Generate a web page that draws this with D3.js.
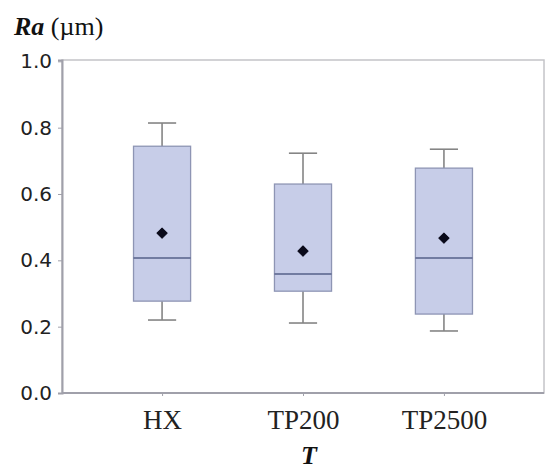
<!DOCTYPE html>
<html>
<head>
<meta charset="utf-8">
<script src="https://cdn.jsdelivr.net/npm/d3@7"></script>
<style>
  html, body { margin: 0; padding: 0; background: #fff; }
  svg { display: block; }
</style>
</head>
<body>
<svg id="chart" width="551" height="472"></svg>
<script>
// Surface roughness Ra by tool type T
const categories = ["HX", "TP200", "TP2500"];
const whiskerLow = [0.22, 0.211, 0.187];
const q1         = [0.277, 0.307, 0.238];
const median     = [0.407, 0.359, 0.407];
const q3         = [0.744, 0.630, 0.678];
const whiskerHigh= [0.814, 0.723, 0.735];
const means      = [0.482, 0.428, 0.467];
const yTicks     = [0.0, 0.2, 0.4, 0.6, 0.8, 1.0];

const svg = d3.select("#chart");
const plot = { left: 62, right: 544, top: 60, bottom: 393 };
const serif = "Liberation Serif, Times New Roman, serif";

const x = d3.scalePoint()
  .domain(categories)
  .range([plot.left, plot.right])
  .padding(0.71);

const y = d3.scaleLinear()
  .domain([0, 1.004])
  .range([plot.bottom, plot.top]);

const step = x.step();
const boxW = step * 0.405;
const capW = step * 0.2;

// plot frame
svg.append("rect")
  .attr("x", plot.left).attr("y", plot.top)
  .attr("width", plot.right - plot.left)
  .attr("height", plot.bottom - plot.top)
  .attr("fill", "#fff")
  .attr("stroke", "#c4c4c8")
  .attr("stroke-width", 1.5);

// axes
const yAxis = d3.axisLeft(y).tickValues(yTicks).tickFormat(d3.format(".1f")).tickSize(4).tickPadding(6);
const gy = svg.append("g").attr("transform", `translate(${plot.left},0)`).call(yAxis);
gy.select(".domain").attr("stroke", "#a0a0aa").attr("stroke-width", 2);
gy.selectAll(".tick line").attr("stroke", "#a0a0aa");
gy.selectAll(".tick text")
  .attr("font-family", "DejaVu Sans, sans-serif")
  .attr("font-size", 20)
  .attr("fill", "#222");

const xAxis = d3.axisBottom(x).tickSize(3).tickPadding(14);
const gx = svg.append("g").attr("transform", `translate(0,${plot.bottom})`).call(xAxis);
gx.select(".domain").attr("stroke", "#a0a0aa").attr("stroke-width", 2)
  .attr("d", `M${plot.left},0H${plot.right}`);
gx.selectAll(".tick line").attr("stroke", "#a0a0aa");
gx.selectAll(".tick text")
  .attr("font-family", serif)
  .attr("font-size", 27)
  .attr("fill", "#222");

// boxes
const data = categories.map((c, i) => ({
  c, lo: whiskerLow[i], q1: q1[i], med: median[i], q3: q3[i], hi: whiskerHigh[i], mean: means[i]
}));

const g = svg.append("g");
const box = g.selectAll("g.box").data(data).join("g").attr("class", "box");

// whiskers
const whiskerStyle = sel => sel.attr("stroke", "#858585").attr("stroke-width", 1.6);
box.append("line")
  .attr("x1", d => x(d.c)).attr("x2", d => x(d.c))
  .attr("y1", d => y(d.hi)).attr("y2", d => y(d.q3))
  .call(whiskerStyle);
box.append("line")
  .attr("x1", d => x(d.c)).attr("x2", d => x(d.c))
  .attr("y1", d => y(d.q1)).attr("y2", d => y(d.lo))
  .call(whiskerStyle);
box.append("line")
  .attr("x1", d => x(d.c) - capW / 2).attr("x2", d => x(d.c) + capW / 2)
  .attr("y1", d => y(d.hi)).attr("y2", d => y(d.hi))
  .call(whiskerStyle);
box.append("line")
  .attr("x1", d => x(d.c) - capW / 2).attr("x2", d => x(d.c) + capW / 2)
  .attr("y1", d => y(d.lo)).attr("y2", d => y(d.lo))
  .call(whiskerStyle);

// interquartile box
box.append("rect")
  .attr("x", d => x(d.c) - boxW / 2)
  .attr("width", boxW)
  .attr("y", d => y(d.q3))
  .attr("height", d => y(d.q1) - y(d.q3))
  .attr("fill", "#c7cde8")
  .attr("stroke", "#8e95b4")
  .attr("stroke-width", 1.3);

// median
box.append("line")
  .attr("x1", d => x(d.c) - boxW / 2).attr("x2", d => x(d.c) + boxW / 2)
  .attr("y1", d => y(d.med)).attr("y2", d => y(d.med))
  .attr("stroke", "#56618a").attr("stroke-width", 1.6);

// mean marker
box.append("path")
  .attr("transform", d => `translate(${x(d.c)},${y(d.mean)}) rotate(45)`)
  .attr("d", d3.symbol().type(d3.symbolSquare).size(52))
  .attr("fill", "#0a0a1a")
  .attr("stroke", "#0a0a1a")
  .attr("stroke-width", 1)
  .attr("stroke-linejoin", "round");

// axis titles
const title = svg.append("text")
  .attr("x", 14).attr("y", 35)
  .style("font-family", serif)
  .attr("font-size", 26)
  .attr("fill", "#111");
title.append("tspan").attr("font-weight", "bold").attr("font-style", "italic").text("Ra");
title.append("tspan").style("font-family", serif).text(" (\u00B5m)");

svg.append("text")
  .attr("x", x("TP200") + 6).attr("y", 464)
  .attr("text-anchor", "middle")
  .attr("font-family", serif)
  .attr("font-size", 26)
  .attr("font-weight", "bold")
  .attr("font-style", "italic")
  .attr("fill", "#111")
  .text("T");
</script>
</body>
</html>
